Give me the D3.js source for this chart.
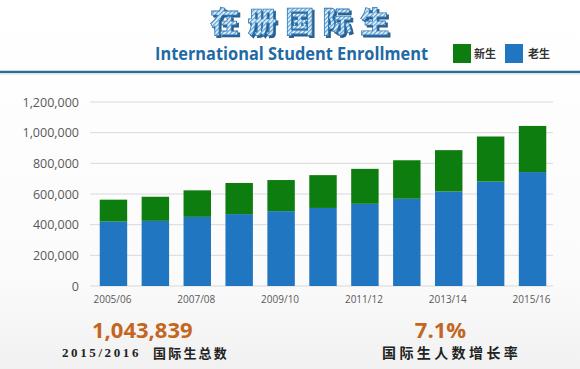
<!DOCTYPE html>
<html><head><meta charset="utf-8">
<script src="https://cdn.jsdelivr.net/npm/d3@7"></script>
<style>
html,body{margin:0;padding:0;background:#fff;}
svg{display:block;}
</style>
</head><body>
<svg id="chart" width="580" height="369"></svg>
<script>
// ---- data ----
const categories = ["2005/06","2006/07","2007/08","2008/09","2009/10","2010/11","2011/12","2012/13","2013/14","2014/15","2015/16"];
const continuing = [420000, 425000, 451000, 469000, 488000, 509000, 536000, 569000, 616000, 681000, 743000]; // 老生
const newStudents = [143000, 157000, 173000, 203000, 203000, 214000, 228000, 251000, 270000, 294000, 301000]; // 新生
const yTicks = [0, 200000, 400000, 600000, 800000, 1000000, 1200000];
const xTickLabels = ["2005/06","2007/08","2009/10","2011/12","2013/14","2015/16"];
const seriesNames = ["新生","老生"];
const colors = {newS:"#0e7d10", cont:"#2176c2"};

const svg = d3.select("#chart");
const defs = svg.append("defs");

// background gradient
const bg = defs.append("linearGradient").attr("id","bg").attr("x1",0).attr("y1",0).attr("x2",0).attr("y2",1);
bg.append("stop").attr("offset","0%").attr("stop-color","#ffffff");
bg.append("stop").attr("offset","75%").attr("stop-color","#fbfbfb");
bg.append("stop").attr("offset","100%").attr("stop-color","#f1f1f1");
svg.append("rect").attr("width",580).attr("height",369).attr("fill","url(#bg)");

// hatch pattern for title
const pat = defs.append("pattern").attr("id","hatch").attr("patternUnits","userSpaceOnUse")
  .attr("width",3).attr("height",3).attr("patternTransform","rotate(45)");
pat.append("rect").attr("width",3).attr("height",3).attr("fill","#eef6fc");
pat.append("rect").attr("width",1.3).attr("height",3).attr("fill","#5a9fd2");

// 3D shadow filter
const f = defs.append("filter").attr("id","shadow").attr("x","-10%").attr("y","-20%").attr("width","130%").attr("height","150%");
f.append("feOffset").attr("in","SourceAlpha").attr("dx",2).attr("dy",2).attr("result","off");
f.append("feFlood").attr("flood-color","#2a5f8c").attr("result","col");
f.append("feComposite").attr("in","col").attr("in2","off").attr("operator","in").attr("result","sh");
const m = f.append("feMerge");
m.append("feMergeNode").attr("in","sh");
m.append("feMergeNode").attr("in","SourceGraphic");

// title
svg.append("text").attr("x",304).attr("y",33).attr("text-anchor","middle")
  .attr("font-family","'Noto Sans CJK SC'").attr("font-weight",900).attr("font-size",29)
  .attr("letter-spacing",8.5).attr("fill","url(#hatch)").attr("stroke","#2e78b4").attr("stroke-width",0.8)
  .attr("filter","url(#shadow)").text("在册国际生");

// subtitle
svg.append("text").attr("x",291.5).attr("y",60).attr("text-anchor","middle")
  .attr("font-family","'Open Sans'").attr("font-weight",700).attr("font-size",17)
  .attr("textLength",273).attr("lengthAdjust","spacingAndGlyphs")
  .attr("fill","#1f6aa5").text("International Student Enrollment");

// legend
const legend = [
  {name:seriesNames[0], color:colors.newS, x:453, tx:474},
  {name:seriesNames[1], color:colors.cont, x:505, tx:528}
];
legend.forEach(d=>{
  svg.append("rect").attr("x",d.x).attr("y",44).attr("width",18).attr("height",19).attr("fill",d.color);
  svg.append("text").attr("x",d.tx).attr("y",58).attr("font-family","'Noto Sans CJK SC'")
    .attr("font-weight",700).attr("font-size",11).attr("fill","#333").text(d.name);
});

// divider line
svg.append("line").attr("x1",0).attr("x2",580).attr("y1",72).attr("y2",72)
  .attr("stroke","#2f6a90").attr("stroke-width",2.5);
svg.append("line").attr("x1",0).attr("x2",580).attr("y1",74).attr("y2",74)
  .attr("stroke","#dbe9f3").attr("stroke-width",1.5);

// scales
const x = d3.scaleBand().domain(categories).range([92.5,553.5]).paddingInner(0.345).paddingOuter(0.1725);
const y = d3.scaleLinear().domain([0,1200000]).range([286,102]);

// gridlines
svg.append("g").selectAll("line").data(yTicks).join("line")
  .attr("x1",90).attr("x2",553).attr("y1",d=>y(d)).attr("y2",d=>y(d))
  .attr("stroke","#d9d9d9").attr("stroke-width",1);

// y axis labels
const yAxis = d3.axisLeft(y).tickValues(yTicks).tickFormat(d3.format(",")).tickSize(0).tickPadding(0);
const gy = svg.append("g").attr("transform","translate(79,0)").call(yAxis);
gy.select(".domain").remove();
gy.selectAll("text").attr("font-family","'Open Sans'").attr("font-size",12.5).attr("fill","#595959");

// bars
const stacked = categories.map((c,i)=>({c, cont:continuing[i], nw:newStudents[i]}));
svg.append("g").selectAll("rect").data(stacked).join("rect")
  .attr("x",d=>x(d.c)).attr("width",x.bandwidth())
  .attr("y",d=>y(d.cont)).attr("height",d=>y(0)-y(d.cont)).attr("fill",colors.cont);
svg.append("g").selectAll("rect").data(stacked).join("rect")
  .attr("x",d=>x(d.c)).attr("width",x.bandwidth())
  .attr("y",d=>y(d.cont+d.nw)).attr("height",d=>y(d.cont)-y(d.cont+d.nw)).attr("fill",colors.newS);

// x axis labels
const xAxis = d3.axisBottom(x).tickValues(xTickLabels).tickSize(0).tickPadding(0);
const gx = svg.append("g").attr("transform","translate(-1,296)").call(xAxis);
gx.select(".domain").remove();
gx.selectAll("text").attr("font-family","'Open Sans'").attr("font-size",10).attr("fill","#595959");

// bottom stats
svg.append("text").attr("x",92).attr("y",338).attr("font-family","'Open Sans'").attr("font-weight",700)
  .attr("font-size",22).attr("fill","#c4661f").text("1,043,839");
svg.append("text").attr("x",440.5).attr("y",338).attr("text-anchor","middle").attr("font-family","'Open Sans'").attr("font-weight",700)
  .attr("font-size",22).attr("fill","#c4661f").text("7.1%");
svg.append("text").attr("x",62).attr("y",357).attr("font-family","'Liberation Serif'").attr("font-weight",700)
  .attr("font-size",13).attr("letter-spacing",2.6).attr("fill","#222").text("2015/2016");
svg.append("text").attr("x",153).attr("y",358).attr("font-family","'Noto Sans CJK SC'").attr("font-weight",700)
  .attr("font-size",13).attr("letter-spacing",2.2).attr("fill","#222").text("国际生总数");
svg.append("text").attr("x",382).attr("y",358).attr("font-family","'Noto Sans CJK SC'").attr("font-weight",700)
  .attr("font-size",14).attr("letter-spacing",3.4).attr("fill","#222").text("国际生人数增长率");
</script>
</body></html>
